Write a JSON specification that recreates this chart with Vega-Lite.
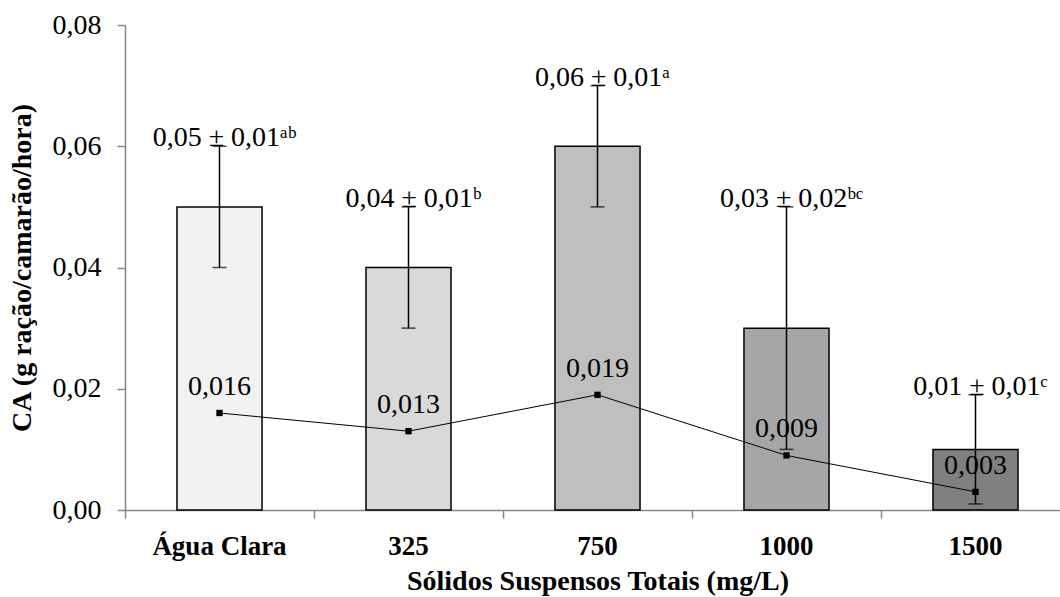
{
  "$schema": "https://vega.github.io/schema/vega-lite/v6.json",
  "autosize": {"type": "none"},
  "padding": {"left": 125, "top": 25, "right": 0, "bottom": 87},
  "width": 935,
  "height": 485,
  "background": "white",
  "config": {
    "font": "Times New Roman",
    "view": {"stroke": null}
  },
  "data": {
    "values": [
      {"cat": "Água Clara", "mean": 0.05, "lo": 0.04, "hi": 0.06, "ca": 0.016, "label": "0,05 ± 0,01ᵃᵇ", "caLabel": "0,016"},
      {"cat": "325", "mean": 0.04, "lo": 0.03, "hi": 0.05, "ca": 0.013, "label": "0,04 ± 0,01ᵇ", "caLabel": "0,013"},
      {"cat": "750", "mean": 0.06, "lo": 0.05, "hi": 0.07, "ca": 0.019, "label": "0,06 ± 0,01ᵃ", "caLabel": "0,019"},
      {"cat": "1000", "mean": 0.03, "lo": 0.01, "hi": 0.05, "ca": 0.009, "label": "0,03 ± 0,02ᵇᶜ", "caLabel": "0,009"},
      {"cat": "1500", "mean": 0.01, "lo": 0.001, "hi": 0.019, "ca": 0.003, "label": "0,01 ± 0,01ᶜ", "caLabel": "0,003"}
    ]
  },
  "encoding": {
    "x": {
      "field": "cat",
      "type": "nominal",
      "sort": null,
      "scale": {"paddingInner": 0, "paddingOuter": 0, "range": [0, 945]},
      "axis": {
        "title": "Sólidos Suspensos Totais (mg/L)",
        "titleFont": "Times New Roman",
        "titleFontSize": 28,
        "titleFontWeight": "bold",
        "titleColor": "black",
        "titlePadding": 8,
        "labelFont": "Times New Roman",
        "labelFontSize": 27,
        "labelFontWeight": "bold",
        "labelColor": "black",
        "labelAngle": 0,
        "labelPadding": 15,
        "bandPosition": 0,
        "domainColor": "#868686",
        "domainWidth": 1.5,
        "tickColor": "#868686",
        "tickWidth": 1.5,
        "tickSize": 8
      }
    }
  },
  "layer": [
    {
      "mark": {"type": "bar", "width": {"band": 0.45}, "stroke": "black", "strokeWidth": 1.5},
      "encoding": {
        "y": {
          "field": "mean",
          "type": "quantitative",
          "scale": {"domain": [0, 0.08], "nice": false},
          "axis": {
            "title": "CA (g ração/camarão/hora)",
            "titleFont": "Times New Roman",
            "titleFontSize": 28,
            "titleFontWeight": "bold",
            "titleColor": "black",
            "titlePadding": 16,
            "values": [0, 0.02, 0.04, 0.06, 0.08],
            "labelExpr": "replace(format(datum.value, '.2f'), '.', ',')",
            "labelFont": "Times New Roman",
            "labelFontSize": 28,
            "labelColor": "black",
            "labelPadding": 16,
            "grid": false,
            "domainColor": "#868686",
            "domainWidth": 1.5,
            "tickColor": "#868686",
            "tickWidth": 1.5,
            "tickSize": 8
          }
        },
        "color": {
          "field": "cat",
          "type": "nominal",
          "sort": null,
          "scale": {"domain": ["Água Clara", "325", "750", "1000", "1500"], "range": ["#f2f2f2", "#d9d9d9", "#bfbfbf", "#a6a6a6", "#808080"]},
          "legend": null
        }
      }
    },
    {
      "mark": {"type": "rule", "color": "black", "strokeWidth": 1.5},
      "encoding": {
        "y": {"field": "lo", "type": "quantitative"},
        "y2": {"field": "hi"}
      }
    },
    {
      "mark": {"type": "tick", "color": "black", "size": 14, "thickness": 1.5, "orient": "horizontal"},
      "encoding": {"y": {"field": "lo", "type": "quantitative"}}
    },
    {
      "mark": {"type": "tick", "color": "black", "size": 14, "thickness": 1.5, "orient": "horizontal"},
      "encoding": {"y": {"field": "hi", "type": "quantitative"}}
    },
    {
      "mark": {"type": "line", "color": "black", "strokeWidth": 1},
      "encoding": {"y": {"field": "ca", "type": "quantitative"}}
    },
    {
      "mark": {"type": "point", "shape": "square", "filled": true, "color": "black", "size": 40, "opacity": 1},
      "encoding": {"y": {"field": "ca", "type": "quantitative"}}
    },
    {
      "mark": {"type": "text", "font": "Times New Roman", "fontSize": 28, "color": "black", "align": "center", "baseline": "alphabetic", "dy": -18},
      "encoding": {
        "y": {"field": "ca", "type": "quantitative"},
        "text": {"field": "caLabel"}
      }
    },
    {
      "mark": {"type": "text", "font": "Times New Roman", "fontSize": 28, "color": "black", "align": "center", "baseline": "alphabetic", "dx": 5, "dy": 0},
      "encoding": {
        "y": {"field": "hi", "type": "quantitative"},
        "text": {"field": "label"}
      }
    }
  ]
}
